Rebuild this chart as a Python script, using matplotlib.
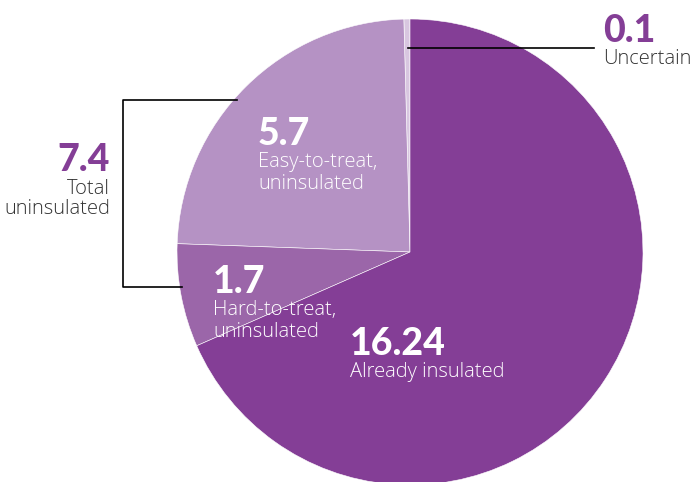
import matplotlib.pyplot as plt

# insulation status, millions of homes (counter-clockwise from 12 o'clock)
labels = ["Uncertain", "Easy-to-treat,\nuninsulated", "Hard-to-treat,\nuninsulated", "Already insulated"]
values = [0.1, 5.7, 1.7, 16.24]
value_text = ["0.1", "5.7", "1.7", "16.24"]
colors = ["#d8c6e0", "#b592c4", "#9b66a9", "#843e96"]
total_uninsulated = "7.4"

W, H = 691, 482
purple = "#843e96"
grey = "#333333"
num_font = dict(family="Lato", fontweight="black")
lab_font = dict(family="Open Sans", fontweight="light")


def py(y):
    # pixel row -> data y
    return H - y


fig = plt.figure(figsize=(W / 100, H / 100), dpi=100)
ax = fig.add_axes([0, 0, 1, 1])
ax.pie(values, colors=colors, startangle=90, counterclock=True,
       center=(410, py(252)), radius=233,
       wedgeprops=dict(edgecolor="white", linewidth=0.4))
ax.set_xlim(0, W)
ax.set_ylim(0, H)
ax.axis("off")

# uncertain callout
ax.plot([408, 594], [py(48), py(48)], color="black", lw=1.2)
ax.text(603, py(42), value_text[0], color=purple, fontsize=27, **num_font)
ax.text(603, py(64), labels[0], color=grey, fontsize=14.5, **lab_font)

# bracket for total uninsulated
ax.plot([237, 123, 123, 182], [py(100), py(100), py(287), py(287)],
        color="black", lw=1.2)
ax.text(110, py(171), total_uninsulated, color=purple, fontsize=27, ha="right", **num_font)
ax.text(110, py(194), "Total", color=grey, fontsize=14.5, ha="right", **lab_font)
ax.text(110, py(214), "uninsulated", color=grey, fontsize=14.5, ha="right", **lab_font)

# in-slice labels
spots = {1: (258, 145), 2: (213, 293), 3: (350, 355)}
for i, (x, y) in spots.items():
    ax.text(x, py(y), value_text[i], color="white", fontsize=27, **num_font)
    ax.text(x, py(y + 7), labels[i], color="white", fontsize=14.5, va="top",
            linespacing=1.12, **lab_font)

fig.savefig("out.png", dpi=100)
